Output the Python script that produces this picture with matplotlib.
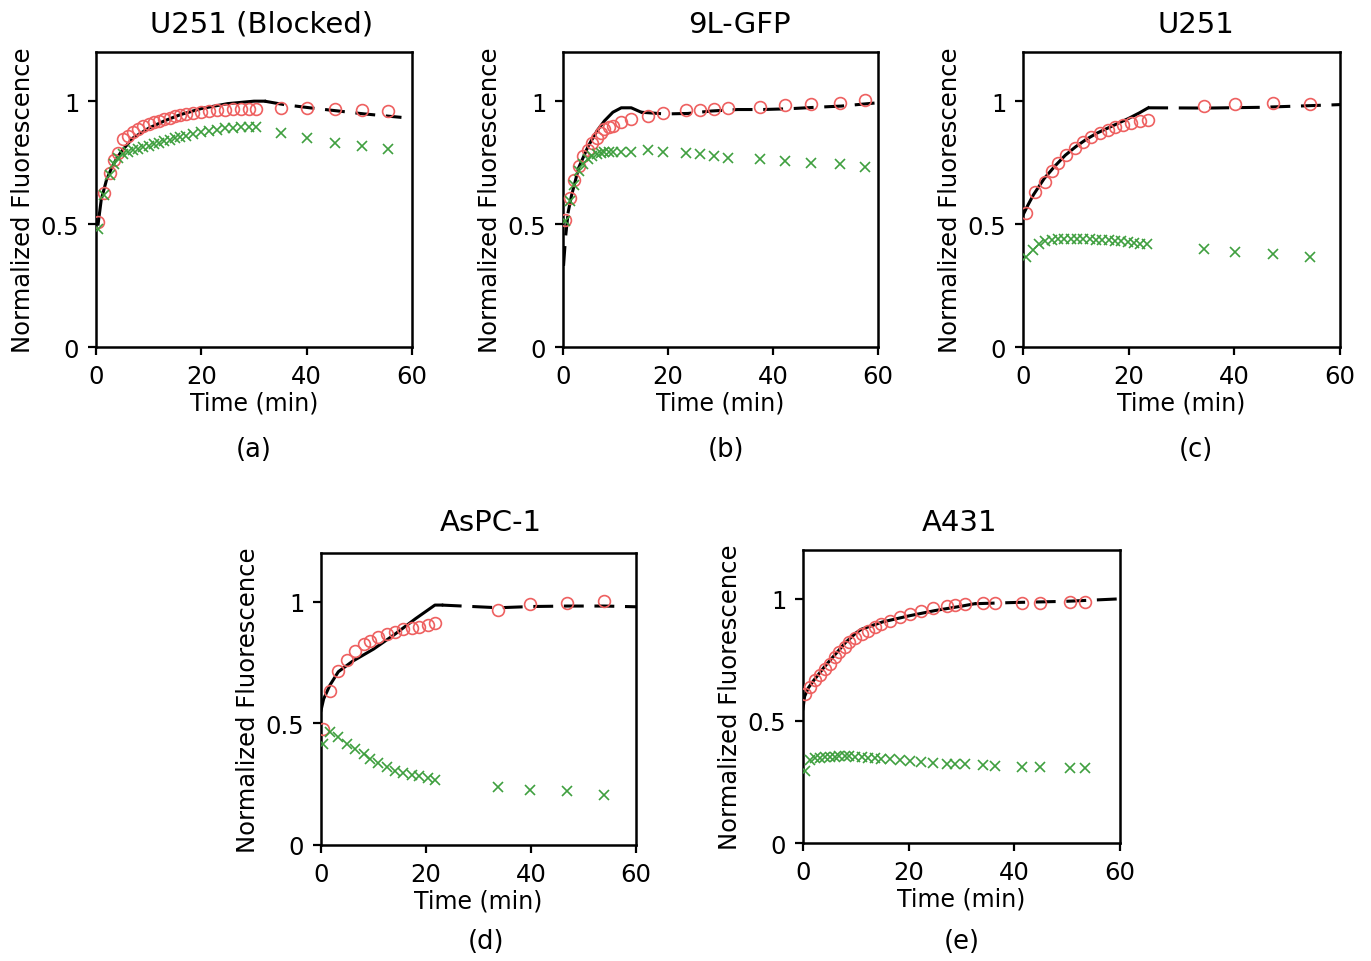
import matplotlib
matplotlib.use("Agg")
import matplotlib.pyplot as plt

W, H = 1371, 962

titles = ["U251 (Blocked)", "9L-GFP", "U251", "AsPC-1", "A431"]
captions = ["(a)", "(b)", "(c)", "(d)", "(e)"]

# ---- (a) U251 blocked
a_t = [0.4, 1.5, 2.7, 3.5, 4.2, 5.2, 6, 7, 8, 9, 10, 11, 12, 13, 14, 15, 16, 17,
       18.5, 20, 21.5, 23, 24.5, 26, 27.5, 29, 30.3, 35.1, 40.1, 45.4, 50.6, 55.5]
a_red = [0.507, 0.626, 0.707, 0.76, 0.79, 0.845, 0.86, 0.875, 0.888, 0.898, 0.906, 0.914,
         0.921, 0.928, 0.933, 0.938, 0.943, 0.947, 0.952, 0.957, 0.96, 0.963, 0.965, 0.967,
         0.968, 0.969, 0.97, 0.974, 0.972, 0.97, 0.965, 0.958]
a_green_t = a_t
a_green = [0.48, 0.62, 0.70, 0.745, 0.77, 0.785, 0.792, 0.8, 0.806, 0.812, 0.818, 0.825,
           0.831, 0.837, 0.843, 0.852, 0.856, 0.86, 0.866, 0.873, 0.878, 0.884, 0.889, 0.892,
           0.893, 0.893, 0.893, 0.869, 0.852, 0.829, 0.816, 0.805]
a_fit_t = [0.4, 0.7, 1, 1.5, 2, 3, 4, 5, 7, 10, 13, 16, 20, 25, 30, 32]
a_fit = [0.5, 0.55, 0.6, 0.64, 0.68, 0.73, 0.77, 0.8, 0.85, 0.89, 0.92, 0.945, 0.97, 0.99, 1.0, 1.0]
a_dash_t = [32, 36, 41, 46, 51, 58]
a_dash = [1.0, 0.985, 0.972, 0.96, 0.948, 0.934]
a_pre_t, a_pre = [], []

# ---- (b) 9L-GFP
b_t = [0.3, 1.3, 2.1, 3.0, 3.9, 4.8, 5.6, 6.4, 7.2, 7.9, 8.7, 9.5, 11.1, 13, 16.2, 19,
       23.5, 26, 28.8, 31.4, 37.5, 42.2, 47.3, 52.7, 57.5]
b_red = [0.516, 0.607, 0.68, 0.736, 0.775, 0.80, 0.83, 0.85, 0.87, 0.885, 0.893, 0.90,
         0.915, 0.928, 0.94, 0.95, 0.963, 0.966, 0.969, 0.973, 0.977, 0.986, 0.989, 0.993, 1.003]
b_green_t = b_t
b_green = [0.512, 0.593, 0.66, 0.715, 0.745, 0.765, 0.778, 0.786, 0.79, 0.793, 0.794, 0.795,
           0.793, 0.793, 0.80, 0.794, 0.79, 0.786, 0.776, 0.77, 0.766, 0.756, 0.749, 0.743, 0.733]
b_pre_t = [0.1, 0.5, 1.0]
b_pre = [0.33, 0.45, 0.55]
b_fit_t = [1.0, 1.6, 3, 4.8, 6.5, 7.9, 9.5, 11.1, 13, 14.9]
b_fit = [0.55, 0.614, 0.73, 0.817, 0.88, 0.92, 0.955, 0.973, 0.973, 0.955]
b_dash_t = [14.9, 19.4, 23.8, 28.3, 33.3, 38, 42.9, 48, 53, 59.7]
b_dash = [0.955, 0.948, 0.95, 0.96, 0.966, 0.966, 0.969, 0.975, 0.98, 0.993]

# ---- (c) U251
c_t = [0.6, 2.2, 4.1, 5.4, 6.6, 8.2, 9.8, 11.4, 12.9, 14.5, 16.1, 17.4, 19, 20.5, 22.1,
       23.7, 34.3, 40.1, 47.4, 54.3]
c_red = [0.544, 0.629, 0.673, 0.714, 0.748, 0.782, 0.81, 0.833, 0.854, 0.871, 0.884, 0.895,
         0.905, 0.912, 0.918, 0.922, 0.98, 0.99, 0.993, 0.989]
c_green_t = [0.6, 1.8, 3.0, 4.2, 5.4, 6.6, 7.8, 9.0, 10.2, 11.4, 12.6, 13.8, 15.0, 16.2,
             17.4, 18.6, 19.8, 21.0, 22.2, 23.4, 34.3, 40.1, 47.4, 54.3]
c_green = [0.367, 0.395, 0.42, 0.432, 0.437, 0.44, 0.441, 0.441, 0.44, 0.44, 0.439, 0.437,
           0.435, 0.434, 0.432, 0.43, 0.427, 0.424, 0.421, 0.419, 0.399, 0.388, 0.378, 0.367]
c_fit_t = [0, 1, 2, 4, 6, 8, 10, 12, 14, 16, 18, 20, 22, 23.7]
c_fit = [0.537, 0.58, 0.62, 0.685, 0.735, 0.78, 0.815, 0.845, 0.87, 0.89, 0.91, 0.93, 0.952, 0.973]
c_dash_t = [23.7, 35, 45, 52, 60]
c_dash = [0.973, 0.972, 0.975, 0.98, 0.986]
c_pre_t, c_pre = [], []

# ---- (d) AsPC-1
d_t = [0.3, 1.8, 3.3, 4.9, 6.4, 8.1, 9.3, 10.9, 12.5, 14.1, 15.7, 17.3, 18.7, 20.3, 21.7,
       33.8, 39.9, 46.9, 53.9]
d_red = [0.478, 0.633, 0.716, 0.762, 0.798, 0.826, 0.839, 0.856, 0.867, 0.876, 0.886, 0.89,
         0.897, 0.904, 0.911, 0.966, 0.99, 0.996, 1.004]
d_green_t = d_t
d_green = [0.416, 0.464, 0.444, 0.416, 0.396, 0.375, 0.354, 0.337, 0.32, 0.306, 0.295, 0.286,
           0.282, 0.275, 0.269, 0.238, 0.227, 0.22, 0.207]
d_fit_t = [0, 0.5, 1.7, 3.3, 6, 10, 14, 18, 21.7, 23]
d_fit = [0.553, 0.6, 0.657, 0.712, 0.755, 0.805, 0.865, 0.93, 0.986, 0.986]
d_dash_t = [23, 33.8, 40, 47, 54, 60]
d_dash = [0.986, 0.975, 0.98, 0.982, 0.982, 0.979]
d_pre_t, d_pre = [], []

# ---- (e) A431
e_t = [0.3, 1.3, 2.2, 3.2, 4.1, 5.1, 6.0, 6.9, 7.9, 8.8, 9.8, 11.1, 12.3, 13.6, 14.8, 16.4,
       18.3, 20.2, 22.4, 24.6, 27.2, 28.7, 30.6, 34.1, 36.3, 41.4, 44.9, 50.5, 53.4]
e_red = [0.611, 0.638, 0.666, 0.69, 0.713, 0.734, 0.761, 0.782, 0.802, 0.823, 0.84, 0.854,
         0.87, 0.884, 0.898, 0.909, 0.925, 0.939, 0.952, 0.963, 0.969, 0.973, 0.977, 0.982,
         0.982, 0.982, 0.982, 0.986, 0.986]
e_green_t = e_t
e_green = [0.295, 0.341, 0.347, 0.35, 0.352, 0.353, 0.354, 0.355, 0.355, 0.355, 0.354, 0.352,
           0.35, 0.348, 0.345, 0.342, 0.339, 0.336, 0.332, 0.328, 0.325, 0.325, 0.325, 0.318,
           0.314, 0.311, 0.311, 0.308, 0.307]
e_fit_t = [0, 0.3, 1, 2, 4, 6, 8, 10, 11, 13, 15, 20, 25, 30, 32.5]
e_fit = [0.55, 0.6, 0.635, 0.665, 0.72, 0.77, 0.82, 0.86, 0.875, 0.89, 0.905, 0.93, 0.952, 0.97, 0.98]
e_dash_t = [32.5, 40, 50, 60]
e_dash = [0.98, 0.985, 0.99, 1.0]
e_pre_t, e_pre = [], []

panels = [
    (a_t, a_red, a_green_t, a_green, a_pre_t, a_pre, a_fit_t, a_fit, a_dash_t, a_dash),
    (b_t, b_red, b_green_t, b_green, b_pre_t, b_pre, b_fit_t, b_fit, b_dash_t, b_dash),
    (c_t, c_red, c_green_t, c_green, c_pre_t, c_pre, c_fit_t, c_fit, c_dash_t, c_dash),
    (d_t, d_red, d_green_t, d_green, d_pre_t, d_pre, d_fit_t, d_fit, d_dash_t, d_dash),
    (e_t, e_red, e_green_t, e_green, e_pre_t, e_pre, e_fit_t, e_fit, e_dash_t, e_dash),
]

# axes boxes in pixels: left, right, top, bottom
boxes = [(96, 412, 53, 348), (563, 878, 53, 348), (1023, 1340, 53, 348),
         (321, 636, 554, 846), (803, 1120, 551, 844)]
title_pos = [(262, 25), (739, 25), (1196, 25), (491, 523), (960, 523)]
cap_pos = [(254, 450), (726, 450), (1196, 450), (486, 942), (962, 942)]

red = "#ee6060"
green = "#3f9f3f"
dash = (0, (6.5, 3.5))

fig = plt.figure(figsize=(W / 100, H / 100), dpi=100)

for i, p in enumerate(panels):
    t, yr, tg, yg, pre_t, pre, ft, fy, dt, dy = p
    l, r, tp, b = boxes[i]
    ax = fig.add_axes([l / W, 1 - b / H, (r - l) / W, (b - tp) / H])
    ax.plot(t, yr, "o", mfc="none", mec=red, ms=8.5, mew=1.2, zorder=3)
    ax.plot(tg, yg, "x", color=green, ms=6.5, mew=1.2, zorder=3)
    ax.plot(ft, fy, "-", color="black", lw=2.2, zorder=2)
    ax.plot(dt, dy, color="black", lw=2.2, linestyle=dash, zorder=2)
    if pre_t:
        ax.plot(pre_t, pre, color="black", lw=2.2, linestyle=dash, zorder=2)
    ax.set_xlim(0, 60)
    ax.set_ylim(0, 1.2)
    ax.set_xticks([0, 20, 40, 60])
    ax.set_yticks([0, 0.5, 1])
    ax.set_yticklabels(["0", "0.5", "1"])
    ax.tick_params(direction="out", length=6, width=1.6, labelsize=17.5, pad=6)
    for s in ax.spines.values():
        s.set_linewidth(1.8)
    ax.set_xlabel("Time (min)", fontsize=17, labelpad=2)
    ax.set_ylabel("Normalized Fluorescence", fontsize=17.5, labelpad=4)
    fig.text(title_pos[i][0] / W, 1 - title_pos[i][1] / H, titles[i],
             fontsize=21, ha="center", va="center")
    fig.text(cap_pos[i][0] / W, 1 - cap_pos[i][1] / H, captions[i],
             fontsize=18.5, ha="center", va="center")

fig.savefig("out.png", dpi=100)
